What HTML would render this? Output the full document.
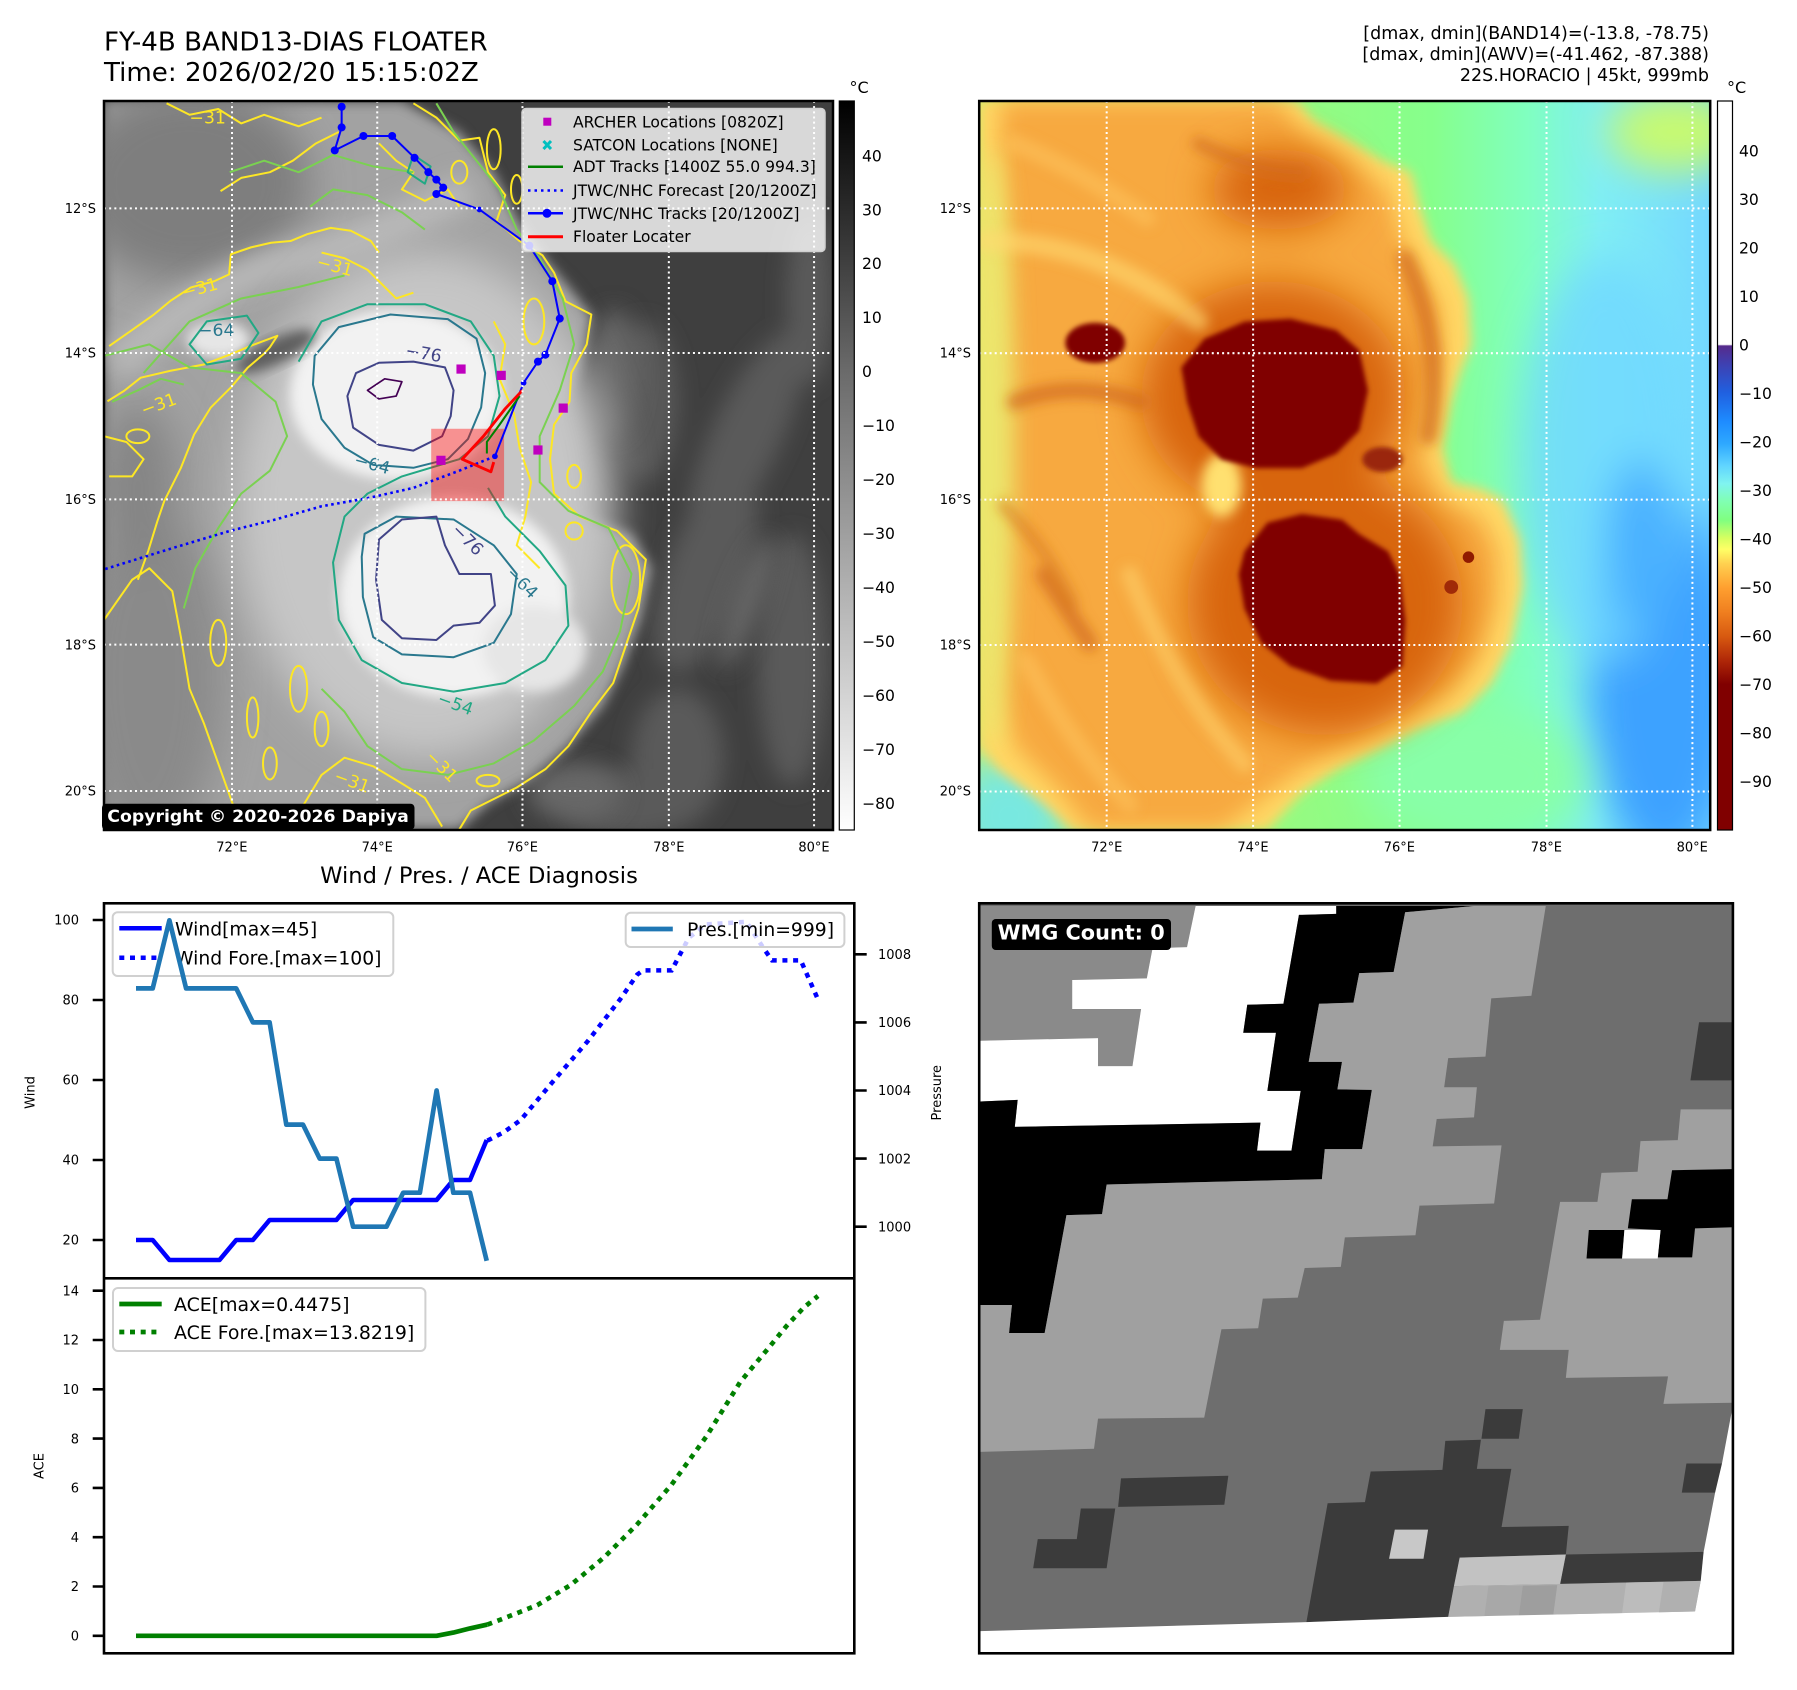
<!DOCTYPE html>
<html><head><meta charset="utf-8"><style>html,body{margin:0;padding:0;background:#fff}svg{display:block}</style></head>
<body>
<svg xmlns="http://www.w3.org/2000/svg" width="1797" height="1690" viewBox="0 0 1797 1690" font-family="DejaVu Sans, Liberation Sans, sans-serif">
<defs>
<filter id="f4" x="-50%" y="-50%" width="200%" height="200%"><feGaussianBlur stdDeviation="4"/></filter>
<filter id="f10" x="-30%" y="-30%" width="160%" height="160%"><feGaussianBlur stdDeviation="10"/></filter>
<filter id="f20" x="-50%" y="-50%" width="200%" height="200%"><feGaussianBlur stdDeviation="20"/></filter>
<filter id="f35" x="-60%" y="-60%" width="220%" height="220%"><feGaussianBlur stdDeviation="35"/></filter>
<linearGradient id="cb1" x1="0" y1="0" x2="0" y2="1"><stop offset="0" stop-color="#000"/><stop offset="0.37" stop-color="#6a6a6a"/><stop offset="1" stop-color="#fff"/></linearGradient>
<linearGradient id="cb2" x1="0" y1="0" x2="0" y2="1">
<stop offset="0" stop-color="#fff"/><stop offset="0.334" stop-color="#fff"/><stop offset="0.336" stop-color="#562b8c"/><stop offset="0.36" stop-color="#3f40b0"/><stop offset="0.40" stop-color="#2060e0"/><stop offset="0.44" stop-color="#1e8cff"/><stop offset="0.47" stop-color="#2ea8ff"/><stop offset="0.50" stop-color="#60d4ff"/><stop offset="0.525" stop-color="#80f4f0"/><stop offset="0.55" stop-color="#80ffb0"/><stop offset="0.575" stop-color="#80ff80"/><stop offset="0.60" stop-color="#d8ff60"/><stop offset="0.615" stop-color="#ffff66"/><stop offset="0.635" stop-color="#ffd050"/><stop offset="0.667" stop-color="#ffa030"/><stop offset="0.70" stop-color="#f08020"/><stop offset="0.734" stop-color="#d85a10"/><stop offset="0.767" stop-color="#b02808"/><stop offset="0.80" stop-color="#800000"/><stop offset="1" stop-color="#800000"/></linearGradient>
<linearGradient id="bg2" x1="0" y1="0" x2="1" y2="0"><stop offset="0" stop-color="#c8f068"/><stop offset="0.4" stop-color="#98fa80"/><stop offset="0.62" stop-color="#86ff8c"/><stop offset="0.75" stop-color="#80ffc0"/><stop offset="0.85" stop-color="#80eef4"/><stop offset="1" stop-color="#74d8ff"/></linearGradient>
</defs>
<rect width="1797" height="1690" fill="#fff"/>

<!-- Titles -->
<text x="104" y="50.5" font-size="26.1" fill="#000">FY-4B BAND13-DIAS FLOATER</text>
<text x="104" y="81" font-size="26.1" fill="#000">Time: 2026/02/20 15:15:02Z</text>
<g font-size="17.5" text-anchor="end" fill="#000">
<text x="1709" y="39">[dmax, dmin](BAND14)=(-13.8, -78.75)</text>
<text x="1709" y="60">[dmax, dmin](AWV)=(-41.462, -87.388)</text>
<text x="1709" y="81">22S.HORACIO | 45kt, 999mb</text>
</g>

<!-- ============ MAP 1 ============ -->
<svg x="104" y="101" width="729" height="729" viewBox="181 176 1270 1270" preserveAspectRatio="none">
<rect x="181" y="176" width="1270" height="1270" fill="#3f3f3f"/>
<g filter="url(#f20)" fill="#5a5a5a">
<ellipse cx="1300" cy="760" rx="60" ry="200" transform="rotate(25 1300 760)"/>
<ellipse cx="1230" cy="1000" rx="70" ry="180" transform="rotate(20 1230 1000)"/>
<ellipse cx="1380" cy="1150" rx="60" ry="220"/>
<ellipse cx="1180" cy="1320" rx="80" ry="120"/>
<ellipse cx="1410" cy="520" rx="40" ry="150"/>
<ellipse cx="1120" cy="700" rx="60" ry="140"/>
<ellipse cx="1100" cy="1400" rx="120" ry="60"/>
</g>
<g filter="url(#f20)" fill="#686868">
<ellipse cx="1070" cy="650" rx="40" ry="110"/>
<ellipse cx="1300" cy="1050" rx="25" ry="120" transform="rotate(20 1300 1050)"/>
<ellipse cx="1000" cy="1380" rx="80" ry="50"/>
</g>
<path d="M181,176 L700,176 L800,230 L860,300 L900,380 L940,440 L990,500 L1030,550 L1010,640 L985,700 L960,760 L960,840 L1010,900 L1100,930 L1135,990 L1115,1080 L1085,1160 L1050,1230 L990,1300 L920,1360 L850,1400 L800,1445 L181,1445 Z" fill="#a2a2a2" filter="url(#f10)"/>
<g filter="url(#f35)">
<ellipse cx="330" cy="320" rx="210" ry="170" fill="#7e7e7e"/>
<ellipse cx="260" cy="1180" rx="130" ry="300" fill="#8a8a8a"/>
<ellipse cx="240" cy="850" rx="70" ry="150" fill="#858585"/>
</g>
<path d="M200,640 Q380,470 560,440 Q700,390 820,330" stroke="#b8b8b8" stroke-width="60" fill="none" filter="url(#f20)"/>
<ellipse cx="740" cy="880" rx="330" ry="440" fill="#c6c6c6" filter="url(#f35)"/>
<g filter="url(#f10)">
<ellipse cx="690" cy="688" rx="185" ry="148" fill="#f2f2f2"/>
<ellipse cx="790" cy="1040" rx="200" ry="175" fill="#f2f2f2"/>
<ellipse cx="930" cy="1130" rx="90" ry="75" fill="#e6e6e6"/>
<ellipse cx="380" cy="592" rx="55" ry="32" fill="#e6e6e6"/>
</g>
<ellipse cx="480" cy="612" rx="75" ry="22" transform="rotate(-25 480 612)" fill="#5e5e5e" filter="url(#f10)"/>

<!-- contours -->
<g fill="none" stroke-width="3.5" stroke-linejoin="round">
<g stroke="#fde725">
<path d="M720,180 L760,205 L800,245 L835,240 L850,300 L880,340 L865,385 L905,420 L945,445 L965,475 L985,525 L1030,548 L1022,600 L995,650 L992,700 L965,740 L958,800 L965,860 L1010,900 L1075,925 L1125,975 L1112,1060 L1090,1125 L1068,1190 L1030,1240 L990,1300 L950,1340 L900,1372 L860,1392 L820,1412 L800,1445"/>
<path d="M190,603 L227,577 L268,548 L297,524 L332,501 L373,490 L399,478 L402,443 L437,431 L472,423 L506,420 L535,408 L576,397 L611,402 L646,420 L660,440"/>
<path d="M187,699 L216,681 L245,658 L297,646 L355,635 L402,617 L443,600 L483,585 L470,605 L459,617 L431,641 L402,675 L367,710 L338,757 L315,815 L286,873 L274,908 L258,960 L240,1010"/>
<path d="M181,1080 L230,1010 L260,990 L300,1030 L315,1110 L330,1200 L355,1260 L380,1330 L405,1400 L420,1445"/>
<path d="M500,1445 L530,1400 L560,1350 L600,1320 L650,1335 L700,1365 L740,1390 L770,1440"/>
<path d="M860,560 L880,600 L870,660 L895,720 L905,780 L925,840 L915,900 L900,950 L940,990"/>
<path d="M290,180 L330,200 L380,190 L420,215 L460,200 L520,220 L560,205"/>
<path d="M384,333 L420,310 L470,300 L510,280 L550,250 L590,230"/>
<path d="M560,440 L600,450 L640,470 L690,520 L720,510"/>
<path d="M660,250 L690,280 L720,300 L700,330 L740,350 L780,330 L800,360"/>
<path d="M181,760 L220,770 L250,800 L230,830 L190,830"/>
<ellipse cx="520" cy="1200" rx="15" ry="40"/><ellipse cx="560" cy="1270" rx="12" ry="30"/><ellipse cx="440" cy="1250" rx="10" ry="35"/><ellipse cx="1000" cy="925" rx="15" ry="15"/><ellipse cx="850" cy="1360" rx="20" ry="10"/><ellipse cx="930" cy="560" rx="18" ry="40"/><ellipse cx="1090" cy="1010" rx="25" ry="60"/>
<ellipse cx="240" cy="760" rx="20" ry="12"/><ellipse cx="380" cy="1120" rx="14" ry="40"/><ellipse cx="470" cy="1330" rx="12" ry="28"/><ellipse cx="860" cy="260" rx="12" ry="35"/><ellipse cx="900" cy="330" rx="10" ry="25"/><ellipse cx="800" cy="300" rx="14" ry="20"/><ellipse cx="1000" cy="830" rx="12" ry="20"/>
</g>
<g stroke="#7ad151">
<path d="M760,180 L790,230 L830,280 L870,330 L900,400 L940,450 L980,520 L1000,600 L975,680 L940,760 L940,840 L990,890 L1060,920 L1100,1000 L1080,1100 L1050,1170 L1000,1230 L930,1290 L860,1330 L780,1350 L700,1340 L640,1300 L600,1240 L560,1200"/>
<path d="M181,620 L260,600 L330,640 L420,650 L480,700 L500,760 L470,820 L420,860 L380,920 L340,990 L320,1060"/>
<path d="M400,300 L460,280 L520,300 L580,270 L650,290 L720,300"/>
<path d="M250,650 L330,560 L420,520 L520,500 L600,480"/>
<path d="M540,360 L580,330 L640,340 L700,370 L740,400"/>
<path d="M195,700 L240,680 L280,660 L320,670"/>
</g>
<g stroke="#22a884">
<path d="M520,630 L560,560 L640,530 L740,530 L820,560 L860,620 L870,690 L850,760 L800,800 L700,830 L640,860 L600,900 L580,980 L590,1080 L630,1150 L700,1190 L790,1205 L880,1190 L950,1150 L990,1090 L985,1020 L940,960 L880,900 L850,850"/>
<path d="M330,600 L360,560 L430,550 L450,580 L420,625 L360,635 Z"/>
<path d="M720,270 L750,290 L740,320 L710,300 Z"/>
</g>
<g stroke="#2a788e">
<path d="M548,620 L590,570 L680,548 L780,556 L830,590 L845,650 L838,710 L815,765 L780,800 L720,815 L650,810 L600,780 L560,730 L545,670 Z"/>
<path d="M635,930 L690,900 L790,905 L860,950 L900,1000 L890,1070 L860,1120 L790,1145 L700,1140 L650,1110 L632,1040 L630,970 Z"/>
</g>
<g stroke="#414487">
<path d="M605,690 L620,650 L660,632 L720,630 L775,640 L790,680 L785,725 L770,760 L720,785 L660,775 L615,745 Z"/>
<path d="M660,940 L700,905 L760,900 L775,950 L800,1000 L855,1000 L862,1055 L835,1085 L790,1090 L760,1115 L700,1112 L665,1080 L655,1010 Z"/>
</g>
<g stroke="#440154" stroke-width="3"><path d="M640,680 L670,660 L700,665 L690,690 L660,695 Z"/></g>
</g>
<g font-size="30">
<text x="330" y="215" fill="#fde725">−31</text>
<text x="550" y="465" fill="#fde725" transform="rotate(15 550 465)">−31</text>
<text x="320" y="520" fill="#fde725" transform="rotate(-15 320 520)">−31</text>
<text x="250" y="725" fill="#fde725" transform="rotate(-20 250 725)">−31</text>
<text x="345" y="585" fill="#2a788e">−64</text>
<text x="705" y="620" fill="#414487" transform="rotate(10 705 620)">−76</text>
<text x="615" y="810" fill="#2a788e" transform="rotate(15 615 810)">−64</text>
<text x="760" y="1225" fill="#22a884" transform="rotate(20 760 1225)">−54</text>
<text x="785" y="925" fill="#414487" transform="rotate(45 785 925)">−76</text>
<text x="880" y="1000" fill="#2a788e" transform="rotate(45 880 1000)">−64</text>
<text x="580" y="1360" fill="#fde725" transform="rotate(20 580 1360)">−31</text>
<text x="740" y="1320" fill="#fde725" transform="rotate(45 740 1320)">−31</text>
</g>

<!-- tracks -->
<rect x="751" y="747" width="127" height="126" fill="#ff0000" fill-opacity="0.4"/>
<path d="M862,795 L800,820 L720,850 L640,868 L560,882 L480,905 L400,925 L300,955 L181,992" stroke="#0000ff" stroke-width="4.5" fill="none" stroke-dasharray="4.5 6"/>
<path d="M595,186 L595,222 L583,262 L633,237 L683,237 L722,275 L746,300 L760,313 L772,327 L760,338 L835,365 L922,428 L962,490 L975,555 L950,618 L937,630 L912,667 L862,795" stroke="#0000ff" stroke-width="3.5" fill="none"/>
<g fill="#0000ff">
<circle cx="595" cy="186" r="7"/><circle cx="595" cy="222" r="7"/><circle cx="583" cy="262" r="7"/><circle cx="633" cy="237" r="7"/><circle cx="683" cy="237" r="7"/><circle cx="722" cy="275" r="7"/><circle cx="746" cy="300" r="7"/><circle cx="760" cy="313" r="7"/><circle cx="772" cy="327" r="7"/><circle cx="760" cy="338" r="7"/><circle cx="835" cy="365" r="5"/><circle cx="922" cy="428" r="7"/><circle cx="962" cy="490" r="7"/><circle cx="975" cy="555" r="7"/><circle cx="950" cy="618" r="7"/><circle cx="937" cy="630" r="7"/><circle cx="912" cy="667" r="5"/><circle cx="862" cy="795" r="5"/>
</g>
<path d="M905,690 L870,740 L848,770 L848,790" stroke="#008000" stroke-width="3.5" fill="none"/>
<path d="M910,680 L880,712 L842,760 L805,800 L855,822 L860,805" stroke="#ff0000" stroke-width="5" fill="none" stroke-linejoin="round"/>
<g fill="#bf00bf"><rect x="795" y="635" width="16" height="16"/><rect x="865" y="646" width="16" height="16"/><rect x="973" y="703" width="16" height="16"/><rect x="929" y="776" width="16" height="16"/><rect x="760" y="794" width="16" height="16"/></g>
<!-- grid -->
<g stroke="#fff" stroke-width="3.5" stroke-dasharray="3.5 5.5" fill="none">
<path d="M404,176 V1446 M657,176 V1446 M910,176 V1446 M1165,176 V1446 M1418,176 V1446 M181,363 H1451 M181,615 H1451 M181,870 H1451 M181,1123 H1451 M181,1378 H1451"/>
</g>
</svg>
<rect x="104" y="101" width="729" height="729" fill="none" stroke="#000" stroke-width="2.5"/>

<!-- map1 legend -->
<rect x="522" y="108.5" width="303" height="143" rx="4" fill="#fff" fill-opacity="0.8" stroke="#d0d0d0" stroke-width="1.5"/>
<rect x="543.3" y="117.7" width="8" height="8" fill="#bf00bf"/>
<path d="M543.5,141 L551,149 M551,141 L543.5,149" stroke="#00bfbf" stroke-width="3"/>
<line x1="528" y1="166.7" x2="563" y2="166.7" stroke="#008000" stroke-width="2.5"/>
<line x1="528" y1="190.5" x2="563" y2="190.5" stroke="#0000ff" stroke-width="2.5" stroke-dasharray="2.5 4"/>
<line x1="528" y1="213.3" x2="563" y2="213.3" stroke="#0000ff" stroke-width="2.5"/><circle cx="547" cy="213.3" r="4.5" fill="#0000ff"/>
<line x1="528" y1="236.7" x2="563" y2="236.7" stroke="#ff0000" stroke-width="3"/>
<g font-size="15.6" fill="#000">
<text x="573" y="127.5">ARCHER Locations [0820Z]</text>
<text x="573" y="150.5">SATCON Locations [NONE]</text>
<text x="573" y="172.2">ADT Tracks [1400Z 55.0 994.3]</text>
<text x="573" y="196">JTWC/NHC Forecast [20/1200Z]</text>
<text x="573" y="219">JTWC/NHC Tracks [20/1200Z]</text>
<text x="573" y="242.2">Floater Locater</text>
</g>
<!-- copyright -->
<rect x="102" y="803.7" width="312.5" height="26" rx="4" fill="#000"/>
<text x="107.3" y="822" font-size="17.3" font-weight="bold" fill="#fff">Copyright © 2020-2026 Dapiya</text>

<!-- map axes labels -->
<g font-size="13" fill="#000" text-anchor="end">
<text x="96" y="213">12°S</text><text x="96" y="357.7">14°S</text><text x="96" y="504">16°S</text><text x="96" y="649.4">18°S</text><text x="96" y="795.7">20°S</text>
<text x="971" y="213">12°S</text><text x="971" y="357.7">14°S</text><text x="971" y="504">16°S</text><text x="971" y="649.4">18°S</text><text x="971" y="795.7">20°S</text>
</g>
<g font-size="13" fill="#000" text-anchor="middle">
<text x="231.9" y="851.3">72°E</text><text x="377.2" y="851.3">74°E</text><text x="522.4" y="851.3">76°E</text><text x="668.8" y="851.3">78°E</text><text x="814" y="851.3">80°E</text>
<text x="1106.7" y="851.3">72°E</text><text x="1253" y="851.3">74°E</text><text x="1399.4" y="851.3">76°E</text><text x="1546.4" y="851.3">78°E</text><text x="1692.2" y="851.3">80°E</text>
</g>

<!-- colorbar 1 -->
<rect x="839.3" y="101" width="15" height="729" fill="url(#cb1)" stroke="#000" stroke-width="1.2"/>
<text x="849.5" y="93" font-size="16">°C</text>
<g font-size="15.6" fill="#000">
<text x="862" y="161.3">40</text><text x="862" y="215.3">30</text><text x="862" y="269.2">20</text><text x="862" y="323.2">10</text><text x="862" y="377.1">0</text><text x="862" y="431.1">−10</text><text x="862" y="485.1">−20</text><text x="862" y="539">−30</text><text x="862" y="593">−40</text><text x="862" y="646.9">−50</text><text x="862" y="700.9">−60</text><text x="862" y="754.9">−70</text><text x="862" y="808.8">−80</text>
</g>

<!-- ============ MAP 2 ============ -->
<svg x="979.2" y="101" width="731" height="729" viewBox="138 176 1273 1269" preserveAspectRatio="none">
<rect x="138" y="176" width="1273" height="1269" fill="url(#bg2)"/>
<g filter="url(#f35)">
<ellipse cx="1330" cy="1180" rx="130" ry="320" fill="#3ea2ff"/>
<ellipse cx="1230" cy="800" rx="150" ry="350" fill="#70d8ff" opacity="0.8"/>
<ellipse cx="1350" cy="230" rx="120" ry="70" fill="#c8fa70"/>
<ellipse cx="1000" cy="1350" rx="200" ry="120" fill="#88ffa8"/>
<ellipse cx="190" cy="1420" rx="110" ry="110" fill="#78e8e0"/>
<ellipse cx="1290" cy="950" rx="60" ry="150" fill="#4ab0ff"/>
</g>
<path d="M138,176 L690,176 L720,210 L790,250 L840,280 L890,300 L905,360 L925,420 L965,460 L990,520 L995,600 L975,650 L960,700 L945,780 L960,840 L1010,850 L1050,870 L1080,940 L1085,1020 L1065,1120 L1030,1190 L980,1240 L900,1270 L840,1300 L760,1340 L700,1380 L640,1445 L300,1445 L250,1400 L170,1340 L138,1300 Z" fill="#ffd865" filter="url(#f10)"/>
<path d="M160,176 L660,176 L700,230 L780,280 L850,330 L870,400 L900,460 L940,530 L945,620 L920,700 L910,790 L940,870 L1010,900 L1040,960 L1040,1050 L1010,1140 L960,1200 L880,1240 L790,1290 L700,1340 L620,1400 L560,1445 L330,1445 L270,1370 L200,1300 L170,1200 L175,176 Z" fill="#f7a940" filter="url(#f20)"/>
<ellipse cx="160" cy="780" rx="40" ry="520" fill="#e8ea70" filter="url(#f20)" opacity="0.85"/>
<g filter="url(#f35)" fill="#d8650f">
<ellipse cx="650" cy="690" rx="230" ry="200"/>
<ellipse cx="740" cy="1050" rx="240" ry="230"/>
<ellipse cx="660" cy="330" rx="120" ry="70"/>
</g>
<g fill="none" stroke-linecap="round" filter="url(#f10)">
<path d="M200,700 Q300,660 420,700" stroke="#d06a1a" stroke-width="28" opacity="0.7"/>
<path d="M250,1000 L330,1120" stroke="#d06a1a" stroke-width="28" opacity="0.7"/>
<path d="M880,450 Q950,600 920,760" stroke="#d06a1a" stroke-width="30" opacity="0.7"/>
<path d="M520,250 Q620,300 700,300" stroke="#d06a1a" stroke-width="25" opacity="0.6"/>
<path d="M180,880 Q260,960 300,1050" stroke="#d87a22" stroke-width="22" opacity="0.6"/>
<path d="M150,420 Q350,420 520,560" stroke="#ffd870" stroke-width="35" opacity="0.6"/>
<path d="M400,1000 Q480,1200 600,1330" stroke="#ffd870" stroke-width="30" opacity="0.5"/>
<path d="M200,250 Q320,300 430,380" stroke="#ffc860" stroke-width="30" opacity="0.5"/>
<path d="M220,1150 Q300,1300 400,1400" stroke="#ffc860" stroke-width="30" opacity="0.5"/>
</g>
<ellipse cx="560" cy="845" rx="35" ry="55" fill="#ffe070" filter="url(#f10)"/>
<g fill="#800000" filter="url(#f4)">
<path d="M490,640 L530,590 L600,560 L680,555 L760,575 L800,610 L815,680 L800,750 L760,790 L700,815 L620,815 L560,800 L520,760 L500,700 Z"/>
<path d="M600,960 L640,910 L700,895 L770,905 L800,930 L850,960 L870,1000 L880,1080 L875,1160 L830,1190 L750,1185 L680,1160 L630,1120 L600,1060 L590,1000 Z"/>
<ellipse cx="340" cy="597" rx="52" ry="35"/>
</g>
<ellipse cx="840" cy="800" rx="35" ry="22" fill="#9a2808" filter="url(#f4)"/>
<circle cx="990" cy="970" r="10" fill="#901a00"/><circle cx="960" cy="1022" r="12" fill="#a02a08"/>
<g stroke="#fff" stroke-width="3.5" stroke-dasharray="3.5 5.5" fill="none">
<path d="M360,176 V1446 M615,176 V1446 M870,176 V1446 M1126,176 V1446 M1380,176 V1446 M138,363 H1411 M138,615 H1411 M138,870 H1411 M138,1123 H1411 M138,1378 H1411"/>
</g>
</svg>
<rect x="979.2" y="101" width="731" height="729" fill="none" stroke="#000" stroke-width="2.5"/>

<!-- colorbar 2 -->
<rect x="1717.5" y="101" width="15" height="729" fill="url(#cb2)" stroke="#000" stroke-width="1.2"/>
<text x="1727" y="93" font-size="16">°C</text>
<g font-size="15.6" fill="#000">
<text x="1739" y="156.7">40</text><text x="1739" y="205.2">30</text><text x="1739" y="253.7">20</text><text x="1739" y="302.2">10</text><text x="1739" y="350.7">0</text><text x="1739" y="399.2">−10</text><text x="1739" y="447.7">−20</text><text x="1739" y="496.2">−30</text><text x="1739" y="544.7">−40</text><text x="1739" y="593.2">−50</text><text x="1739" y="641.7">−60</text><text x="1739" y="690.2">−70</text><text x="1739" y="738.7">−80</text><text x="1739" y="787.2">−90</text>
</g>

<!-- ============ BOTTOM LEFT ============ -->
<text x="479" y="883" font-size="22.6" text-anchor="middle" fill="#000">Wind / Pres. / ACE Diagnosis</text>
<polyline points="136,1240 152.7,1240 169.4,1260 186.1,1260 202.8,1260 219.5,1260 236.2,1240 252.9,1240 269.6,1220 286.3,1220 303,1220 319.7,1220 336.4,1220 353.1,1200 369.8,1200 386.5,1200 403.2,1200 419.9,1200 436.6,1200 453.3,1180 470,1180 486.7,1140" fill="none" stroke="#0000ff" stroke-width="4.5" stroke-linejoin="round"/>
<polyline points="487.4,1140.6 504,1132.1 520.7,1120 554,1080.3 587.3,1041.7 620,999.5 637.2,974.6 643,970.4 671.6,970.4 688.9,937.6 706,924.4 746.3,921.8 763.5,948.2 772.1,960.4 800.8,960.4 818,999.5" fill="none" stroke="#0000ff" stroke-width="4.5" stroke-dasharray="5 5.7"/>
<rect x="112.7" y="912.3" width="280.6" height="63.7" rx="5" fill="#fff" fill-opacity="0.8" stroke="#d0d0d0" stroke-width="2"/>
<line x1="119.3" y1="928.3" x2="161.7" y2="928.3" stroke="#0000ff" stroke-width="4.5"/>
<line x1="119.3" y1="957.7" x2="161.7" y2="957.7" stroke="#0000ff" stroke-width="4.5" stroke-dasharray="5 5.7"/>
<text x="175" y="935.5" font-size="18.75" fill="#000">Wind[max=45]</text>
<text x="175" y="964.7" font-size="18.75" fill="#000">Wind Fore.[max=100]</text>
<polyline points="136,988.4 152.7,988.4 169.4,920.3 186.1,988.4 202.8,988.4 219.5,988.4 236.2,988.4 252.9,1022.4 269.6,1022.4 286.3,1124.6 303,1124.6 319.7,1158.6 336.4,1158.6 353.1,1226.7 369.8,1226.7 386.5,1226.7 403.2,1192.7 419.9,1192.7 436.6,1090.5 453.3,1192.7 470,1192.7 486.7,1260.8" fill="none" stroke="#1f77b4" stroke-width="4.7" stroke-linejoin="round"/>
<rect x="625.7" y="912.8" width="218.7" height="34.2" rx="5" fill="#fff" fill-opacity="0.8" stroke="#d0d0d0" stroke-width="2"/>
<line x1="631.5" y1="929" x2="672.8" y2="929" stroke="#1f77b4" stroke-width="4.7"/>
<text x="687" y="936" font-size="18.75" fill="#000">Pres.[min=999]</text>
<polyline points="136,1635.8 436.6,1635.8 453.3,1632.6 470,1628.4 487.4,1624.6" fill="none" stroke="#008000" stroke-width="4.7" stroke-linejoin="round"/>
<polyline points="487.4,1624.6 504,1618.3 537.3,1605.1 570.6,1585 603.9,1557.6 637.2,1524.3 671.6,1484.6 706,1437 740.5,1381.6 769.2,1347.2 786.5,1326 803.7,1307.6 818,1296" fill="none" stroke="#008000" stroke-width="4.7" stroke-dasharray="5 5.7"/>
<rect x="113" y="1288" width="312.4" height="63" rx="5" fill="#fff" fill-opacity="0.8" stroke="#d0d0d0" stroke-width="2"/>
<line x1="119.3" y1="1304" x2="161.7" y2="1304" stroke="#008000" stroke-width="4.7"/>
<line x1="119.3" y1="1332" x2="161.7" y2="1332" stroke="#008000" stroke-width="4.7" stroke-dasharray="5 5.7"/>
<text x="174" y="1310.8" font-size="18.9" fill="#000">ACE[max=0.4475]</text>
<text x="174" y="1338.8" font-size="18.9" fill="#000">ACE Fore.[max=13.8219]</text>
<rect x="104" y="903.3" width="750.3" height="750" fill="none" stroke="#000" stroke-width="2.6"/>
<line x1="104" y1="1278.3" x2="854.3" y2="1278.3" stroke="#000" stroke-width="2.6"/>
<g stroke="#000" stroke-width="2.6">
<path d="M92.7,920 H104 M92.7,1000 H104 M92.7,1080 H104 M92.7,1160 H104 M92.7,1240 H104"/>
<path d="M854,954.3 H866.7 M854,1022.4 H866.7 M854,1090.5 H866.7 M854,1158.6 H866.7 M854,1226.7 H866.7"/>
<path d="M92.7,1290.7 H104 M92.7,1340 H104 M92.7,1389.3 H104 M92.7,1438.6 H104 M92.7,1487.9 H104 M92.7,1537.2 H104 M92.7,1586.5 H104 M92.7,1635.8 H104"/>
</g>
<g font-size="13" fill="#000" text-anchor="end">
<text x="79" y="924.7">100</text><text x="79" y="1004.7">80</text><text x="79" y="1084.7">60</text><text x="79" y="1164.7">40</text><text x="79" y="1244.7">20</text>
<text x="79" y="1295.4">14</text><text x="79" y="1344.7">12</text><text x="79" y="1394">10</text><text x="79" y="1443.3">8</text><text x="79" y="1492.6">6</text><text x="79" y="1541.9">4</text><text x="79" y="1591.2">2</text><text x="79" y="1640.5">0</text>
</g>
<g font-size="13" fill="#000">
<text x="878" y="959">1008</text><text x="878" y="1027.1">1006</text><text x="878" y="1095.2">1004</text><text x="878" y="1163.3">1002</text><text x="878" y="1231.4">1000</text>
</g>
<text font-size="13" fill="#000" text-anchor="middle" transform="translate(34.5 1092.5) rotate(-90)">Wind</text>
<text font-size="13" fill="#000" text-anchor="middle" transform="translate(43.5 1466) rotate(-90)">ACE</text>
<text font-size="13" fill="#000" text-anchor="middle" transform="translate(941.2 1092.7) rotate(-90)">Pressure</text>

<!-- ============ BOTTOM RIGHT ============ -->
<svg x="979.2" y="903.3" width="753.7" height="750" viewBox="138 80 1313 1419" preserveAspectRatio="none">
<rect x="138" y="80" width="1313" height="1419" fill="#6e6e6e"/>
<path d="M140,85 L515,85 L500,163 L440,165 L430,222 L300,225 L300,280 L420,280 L405,388 L345,388 L345,335 L140,340 Z" fill="#8a8a8a"/>
<path d="M515,85 L760,85 L760,100 L695,102 L668,270 L605,272 L598,325 L655,325 L640,435 L698,435 L682,548 L622,548 L628,495 L200,503 L205,452 L140,455 L140,340 L345,335 L345,388 L405,388 L420,280 L300,280 L300,225 L430,222 L440,165 L500,163 Z" fill="#fff"/>
<path d="M760,85 L1000,85 L880,97 L860,210 L800,212 L790,268 L730,270 L712,380 L770,380 L762,432 L822,433 L805,545 L740,545 L735,602 L360,612 L352,668 L290,670 L252,893 L190,893 L195,840 L140,840 L140,455 L205,452 L200,503 L628,495 L622,548 L682,548 L698,435 L640,435 L655,325 L598,325 L605,272 L668,270 L695,102 L760,100 Z" fill="#000"/>
<path d="M1000,85 L1125,85 L1100,255 L1030,260 L1020,370 L955,373 L948,428 L1005,428 L1000,485 L935,488 L928,540 L1048,538 L1035,648 L905,652 L898,708 L775,712 L768,768 L705,770 L693,826 L632,828 L624,884 L560,886 L530,1053 L345,1055 L338,1112 L140,1118 L140,840 L195,840 L190,893 L252,893 L290,670 L352,668 L360,612 L735,602 L740,545 L805,545 L822,433 L762,432 L770,380 L712,380 L730,270 L790,268 L800,212 L860,210 L880,97 Z" fill="#a0a0a0"/>
<path d="M1360,470 L1451,470 L1451,1025 L1330,1027 L1338,975 L1160,978 L1165,925 L1045,925 L1052,870 L1115,868 L1150,645 L1215,645 L1222,590 L1285,588 L1290,530 L1355,528 Z" fill="#a0a0a0"/>
<path d="M1345,585 L1451,583 L1451,693 L1385,695 L1380,750 L1320,750 L1325,698 L1268,695 L1275,640 L1337,640 Z" fill="#000"/>
<path d="M1200,698 L1262,698 L1258,752 L1196,752 Z" fill="#000"/>
<path d="M1262,698 L1325,698 L1320,752 L1258,752 Z" fill="#fff"/>
<g fill="#3b3b3b">
<path d="M1392,305 L1451,305 L1451,415 L1377,415 Z"/>
<path d="M1020,1037 L1085,1037 L1078,1093 L1013,1093 Z"/>
<path d="M1370,1140 L1432,1140 L1425,1195 L1362,1195 Z"/>
<path d="M385,1168 L572,1163 L565,1218 L380,1222 Z"/>
<path d="M315,1225 L375,1225 L360,1338 L232,1338 L240,1283 L308,1283 Z"/>
<path d="M745,1215 L810,1213 L820,1155 L945,1152 L950,1097 L1012,1095 L1005,1150 L1065,1150 L1048,1260 L1165,1258 L1160,1312 L975,1318 L955,1430 L708,1440 Z"/>
<path d="M1160,1312 L1400,1307 L1395,1362 L1150,1368 Z"/>
</g>
<path d="M862,1265 L920,1265 L912,1320 L852,1320 Z" fill="#c8c8c8"/>
<path d="M975,1318 L1160,1312 L1150,1368 L965,1372 Z" fill="#c2c2c2"/>
<path d="M965,1372 L1395,1362 L1385,1420 L955,1430 Z" fill="#b0b0b0"/>
<path d="M1025,1372 L1085,1371 L1078,1428 L1018,1429 Z" fill="#a8a8a8"/>
<path d="M1085,1371 L1145,1370 L1138,1427 L1078,1428 Z" fill="#9e9e9e"/>
<path d="M1265,1365 L1330,1364 L1322,1422 L1258,1423 Z" fill="#bcbcbc"/>
<path d="M140,1457 L708,1440 L955,1430 L1385,1420 L1395,1362 L1400,1307 L1420,1195 L1432,1140 L1451,1030 L1451,1499 L140,1499 Z" fill="#fff"/>
</svg>
<rect x="979.2" y="903.3" width="753.7" height="750" fill="none" stroke="#000" stroke-width="2.6"/>
<rect x="991.8" y="919" width="179.2" height="31" rx="4" fill="#000"/>
<text x="997.6" y="939.3" font-size="20.8" font-weight="bold" fill="#fff">WMG Count: 0</text>
</svg>
</body></html>
